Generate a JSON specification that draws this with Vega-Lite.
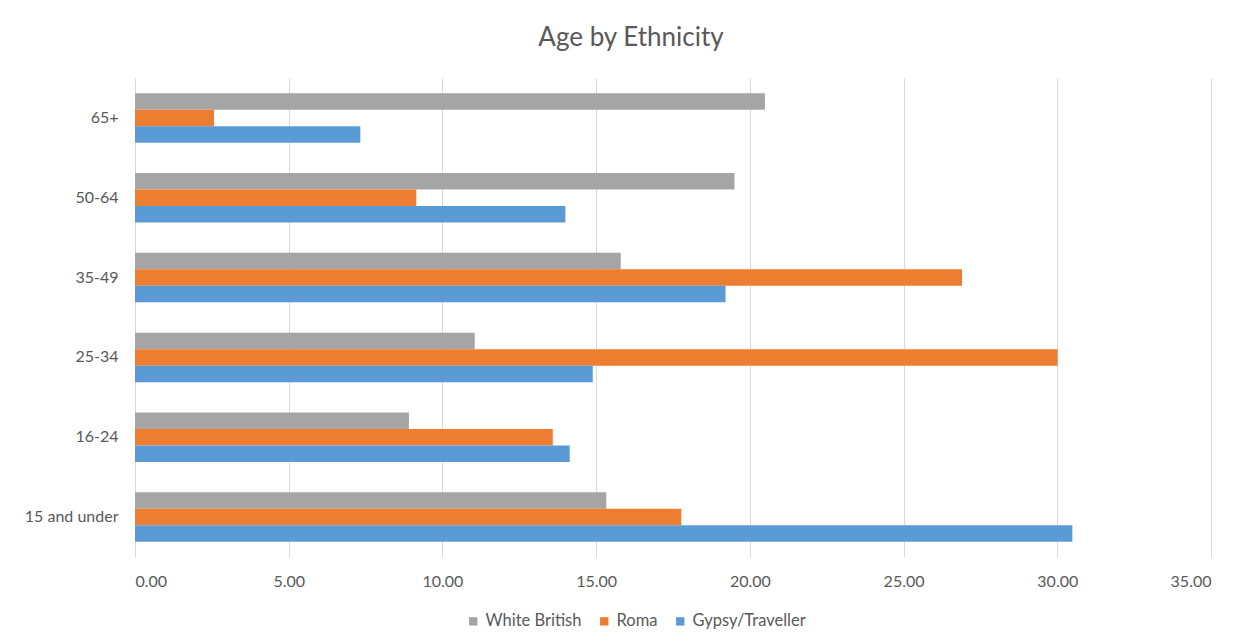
{
  "$schema": "https://vega.github.io/schema/vega-lite/v6.json",
  "autosize": "none",
  "width": 1076,
  "height": 479,
  "padding": {"left": 135, "top": 78, "right": 39, "bottom": 87},
  "background": "white",
  "title": {"text": "Age by Ethnicity", "fontSize": 26, "font": "Lato", "fontWeight": "normal", "color": "#595959", "offset": 27, "anchor": "middle", "dx": -42},
  "data": {"values": [
    {"age": "65+", "series": "White British", "value": 20.49},
    {"age": "65+", "series": "Roma", "value": 2.57},
    {"age": "65+", "series": "Gypsy/Traveller", "value": 7.33},
    {"age": "50-64", "series": "White British", "value": 19.50},
    {"age": "50-64", "series": "Roma", "value": 9.15},
    {"age": "50-64", "series": "Gypsy/Traveller", "value": 14.00},
    {"age": "35-49", "series": "White British", "value": 15.80},
    {"age": "35-49", "series": "Roma", "value": 26.90},
    {"age": "35-49", "series": "Gypsy/Traveller", "value": 19.21},
    {"age": "25-34", "series": "White British", "value": 11.05},
    {"age": "25-34", "series": "Roma", "value": 30.01},
    {"age": "25-34", "series": "Gypsy/Traveller", "value": 14.89},
    {"age": "16-24", "series": "White British", "value": 8.91},
    {"age": "16-24", "series": "Roma", "value": 13.59},
    {"age": "16-24", "series": "Gypsy/Traveller", "value": 14.14},
    {"age": "15 and under", "series": "White British", "value": 15.33},
    {"age": "15 and under", "series": "Roma", "value": 17.77},
    {"age": "15 and under", "series": "Gypsy/Traveller", "value": 30.49}
  ]},
  "mark": {"type": "bar"},
  "encoding": {
    "y": {"field": "age", "type": "nominal", "sort": ["65+", "50-64", "35-49", "25-34", "16-24", "15 and under"],
      "scale": {"paddingInner": 0.38, "paddingOuter": 0.19},
      "axis": {"title": null, "ticks": false, "domain": true, "domainColor": "#d9d9d9", "labelPadding": 17, "labelFontSize": 16, "labelFont": "Lato", "labelColor": "#595959"}},
    "yOffset": {"field": "series", "type": "nominal", "sort": ["White British", "Roma", "Gypsy/Traveller"]},
    "x": {"field": "value", "type": "quantitative", "scale": {"domain": [0, 35]},
      "axis": {"title": null, "values": [0, 5, 10, 15, 20, 25, 30, 35], "format": ".2f", "ticks": false, "domain": false, "grid": true, "gridColor": "#d9d9d9", "labelPadding": 16, "labelFontSize": 16, "labelFont": "Lato", "labelColor": "#595959"}},
    "color": {"field": "series", "type": "nominal", "sort": ["White British", "Roma", "Gypsy/Traveller"],
      "scale": {"domain": ["White British", "Roma", "Gypsy/Traveller"], "range": ["#a5a5a5", "#ed7d31", "#5b9bd5"]},
      "legend": {"title": null, "orient": "none", "direction": "horizontal", "legendX": 330, "legendY": 535, "symbolType": "square", "symbolSize": 70, "symbolStrokeWidth": 0, "labelFontSize": 16.5, "labelFont": "Lato", "labelColor": "#595959", "columnPadding": 14, "labelOffset": 4}}
  },
  "config": {"view": {"stroke": null}}
}
